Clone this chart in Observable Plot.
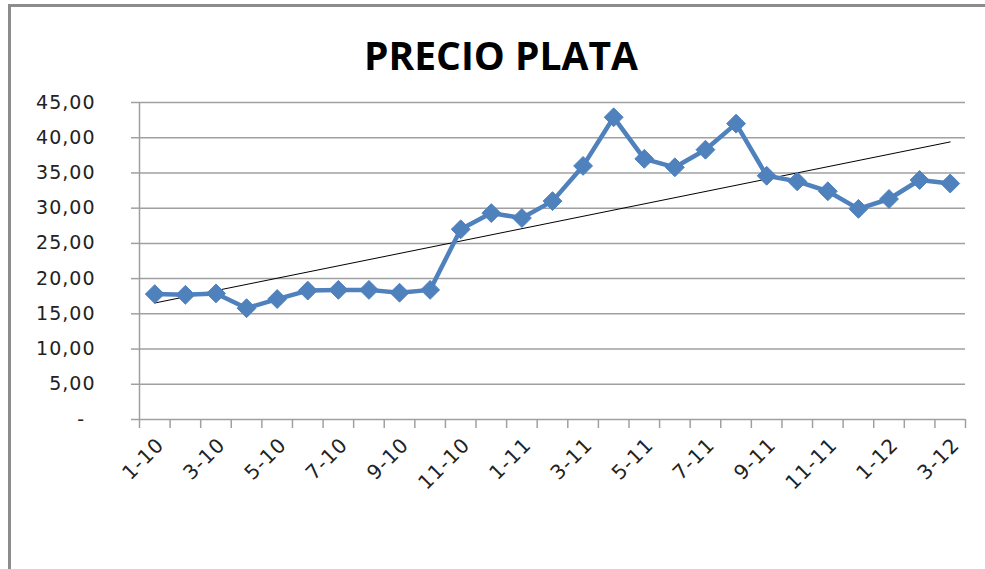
<!DOCTYPE html>
<html>
<head>
<meta charset="utf-8">
<script src="https://cdn.jsdelivr.net/npm/d3@7"></script>
<script src="https://cdn.jsdelivr.net/npm/@observablehq/plot@0.6"></script>
<style>
  html, body { margin: 0; padding: 0; background: #fff; }
  #wrap { position: relative; width: 985px; height: 569px; overflow: hidden; background: #fff; }
  #frame { position: absolute; left: 8px; top: 4px; width: 1100px; height: 700px;
           border-left: 3px solid #8c8c8c; border-top: 3px solid #8c8c8c; box-sizing: border-box; pointer-events: none; }
  #title { position: relative; height: 87px; box-sizing: border-box; padding-top: 35px; padding-left: 17px;
           text-align: center; font: bold 39px/1 "Open Sans", sans-serif; color: #000; }
  #chart { position: relative; }
</style>
</head>
<body>
<div id="wrap">
  <div id="frame"></div>
  <div id="title">PRECIO PLATA</div>
  <div id="chart"></div>
</div>
<script>
const months = ["1-10","2-10","3-10","4-10","5-10","6-10","7-10","8-10","9-10","10-10","11-10","12-10",
                "1-11","2-11","3-11","4-11","5-11","6-11","7-11","8-11","9-11","10-11","11-11","12-11",
                "1-12","2-12","3-12"];
const prices = [17.8,17.7,17.9,15.8,17.1,18.3,18.4,18.4,18.0,18.4,27.0,29.3,
                28.6,31.0,36.0,42.9,37.0,35.8,38.3,42.0,34.6,33.8,32.4,29.9,
                31.3,34.0,33.5];
const yTicks = [0,5,10,15,20,25,30,35,40,45];
const labelIdx = d3.range(0, months.length, 2);

const data = months.map((m, i) => ({i, m, v: prices[i]}));
const fmt = d => d === 0 ? "-\u2002" : d.toFixed(2).replace(".", ",");
const grey = "#a0a0a0";

const chart = Plot.plot({
  width: 985, height: 482,
  marginTop: 15, marginBottom: 150, marginLeft: 139, marginRight: 20,
  x: {type: "linear", domain: [-0.5, months.length - 0.5], label: null},
  y: {domain: [0, 45], label: null},
  style: {fontFamily: "DejaVu Sans", fontSize: "19px", letterSpacing: "1px", color: "#222", background: "transparent"},
  marks: [
    Plot.gridY(yTicks.filter(d => d > 0), {stroke: grey, strokeOpacity: 1, strokeWidth: 1.5}),
    Plot.axisY(yTicks, {tickSize: 8, tickPadding: 36, stroke: grey, strokeWidth: 1.5, tickFormat: fmt, fill: "#222", label: null}),
    Plot.ruleY([0], {stroke: grey, strokeWidth: 1.5}),
    Plot.ruleX([-0.5], {stroke: grey, strokeWidth: 1.5}),
    Plot.axisX(d3.range(-0.5, months.length, 1), {tickSize: 9, stroke: grey, strokeWidth: 1.5, tickFormat: () => "", label: null}),
    Plot.axisX(labelIdx, {tickSize: 0, tickPadding: 8, tickRotate: -45, tickFormat: i => months[i], fill: "#222",
                          fontSize: 20, dx: 6, dy: 14, label: null}),
    Plot.linearRegressionY(data, {x: "i", y: "v", stroke: "#000", strokeWidth: 1, ci: 0}),
    Plot.line(data, {x: "i", y: "v", stroke: "#4F81BD", strokeWidth: 4.5}),
    Plot.dot(data, {x: "i", y: "v", symbol: "diamond2", r: 8.5, fill: "#4F81BD", stroke: "#4F81BD", strokeWidth: 1})
  ]
});
document.getElementById("chart").appendChild(chart);
</script>
</body>
</html>
